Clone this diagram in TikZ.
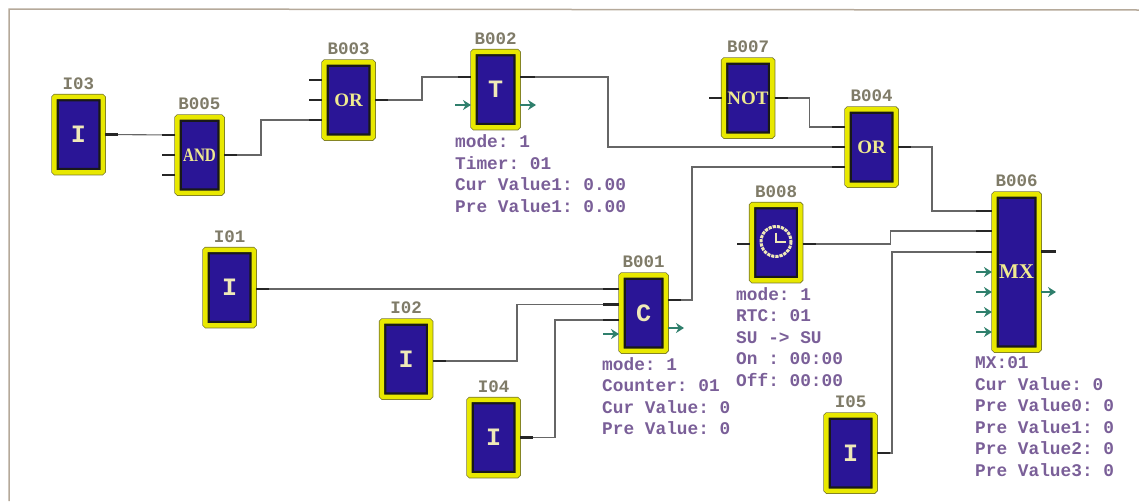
\documentclass[tikz,border=0pt]{standalone}
\usepackage{fontspec}
\setmainfont{Liberation Serif}
\setmonofont{Liberation Mono}
\usetikzlibrary{arrows.meta,positioning}
\definecolor{blockblue}{HTML}{2A1596}
\definecolor{blockyellow}{HTML}{E8E800}
\definecolor{blockedge}{HTML}{77772A}
\definecolor{blockglyph}{HTML}{EFEA90}
\definecolor{monocream}{HTML}{EFE9B8}
\definecolor{titlegrey}{HTML}{7F7B68}
\definecolor{infopurple}{HTML}{7A5F98}
\definecolor{wiregrey}{HTML}{666666}
\definecolor{pingreen}{HTML}{2F7F6C}
\definecolor{frametan}{HTML}{B5A99A}
\tikzset{
  block/.style={
    rectangle,
    rounded corners=1pt,
    draw=blockyellow,
    fill=blockblue,
    line width=4.5pt,
    minimum width=48.5pt,
    minimum height=75.5pt,
    inner sep=0pt,
    text=blockglyph,
    font=\bfseries\fontsize{19}{19}\selectfont,
    preaction={draw=blockedge,line width=6pt},
    path picture={\draw[black!90,line width=9pt] (path picture bounding box.south west) rectangle (path picture bounding box.north east);}
  },
  narrowblock/.style={
    block,
    minimum width=44.5pt
  },
  monoglyph/.style={
    text=monocream,
    font=\ttfamily\bfseries\fontsize{25}{25}\selectfont
  },
  blocktitle/.style={
    text=titlegrey,
    inner sep=0pt,
    font=\ttfamily\bfseries\fontsize{17.5}{17.5}\selectfont
  },
  infotext/.style={
    text=infopurple,
    inner sep=0pt,
    anchor=north west,
    align=left,
    font=\ttfamily\bfseries\fontsize{17.8}{21.5}\selectfont
  },
  wire/.style={
    draw=wiregrey,
    line width=1.1pt
  },
  stub/.style={
    draw=black!85,
    line width=2.2pt
  },
  pinarrow/.style={
    -{Stealth[length=8pt,width=10pt]},
    draw=pingreen,
    line width=2.2pt
  },
  clockring/.style={
    draw=monocream,
    line width=3pt
  }
}
\begin{document}
\begin{tikzpicture}[x=1pt,y=-1pt]
\useasboundingbox (0,0) rectangle (1139,501);
% outer frame
\coordinate (frameA) at (1139,10);
\coordinate (frameB) at (9,9);
\coordinate (frameC) at (9,501);
\draw[frametan,line width=1.5pt] (frameA) -- (frameB) -- (frameC);
% blocks
\node[block,monoglyph] (I03) at (78.5,134.5) {I};
\node[block,monoglyph] (I01) at (229.5,287.5) {I};
\node[block,monoglyph] (I02) at (406,359) {I};
\node[block,monoglyph] (I04) at (493.5,437.5) {I};
\node[block,monoglyph] (I05) at (850.5,453) {I};
\node[narrowblock] (B005) at (199.5,155) {\scalebox{.8}[1]{AND}};
\node[block] (B003) at (348.5,100) {OR};
\node[narrowblock,monoglyph] (B002) at (495.5,89.5) {T};
\node[block] (B007) at (748,98) {NOT};
\node[block] (B004) at (871.5,147) {OR};
\node[block] (B008) at (776,242.5) {};
\node[narrowblock,monoglyph] (B001) at (643.5,313) {C};
\node[narrowblock,minimum height=155.5pt,font=\bfseries\fontsize{21}{21}\selectfont] (B006) at (1016.5,272) {MX};
% clock face
\draw[clockring,dash pattern=on 3.2pt off 1pt] ([yshift=1pt]B008.center) circle (15);
\draw[draw=monocream,line width=2pt] ([yshift=10pt]B008.center) -- ([yshift=1pt]B008.center) -- ([xshift=10pt,yshift=1pt]B008.center);
% titles
\foreach \nm in {I03,I01,I02,I04,I05,B005,B003,B002,B007,B004,B008,B001,B006}
  \node[blocktitle,above=5pt of \nm.north] (\nm title) {\nm};
% info lines
\node[infotext] (B002info) at (455,134.5) {mode: 1\\Timer: 01\\Cur Value1: 0.00\\Pre Value1: 0.00};
\node[infotext] (B001info) at (602,357) {mode: 1\\Counter: 01\\Cur Value: 0\\Pre Value: 0};
\node[infotext] (B008info) at (736,287) {mode: 1\\RTC: 01\\SU -> SU\\On : 00:00\\Off: 00:00};
\node[infotext] (B006info) at (975,356.5) {MX:01\\Cur Value: 0\\Pre Value0: 0\\Pre Value1: 0\\Pre Value2: 0\\Pre Value3: 0};
% wires
\draw[wire] (I03.east) -- ([yshift=20pt]B005.west);
\draw[wire] (B005.east) -- ++(37,0) |- ([yshift=-20pt]B003.west);
\draw[wire] (B003.east) -- ++(47,0) |- ([yshift=12.5pt]B002.west);
\draw[wire] ([yshift=12.5pt]B002.east) -- ++(88,0) |- (B004.west);
\draw[wire] (B007.east) -- ++(35,0) |- ([yshift=20pt]B004.west);
\draw[wire] ([yshift=13pt]B001.east) -- ++(24,0) |- ([yshift=-20pt]B004.west);
\draw[wire] (B004.east) -- ++(34,0) |- ([yshift=61pt]B006.west);
\draw[wire] ([yshift=-1.5pt]B008.east) -- ++(88,0) |- ([yshift=41pt]B006.west);
\draw[wire] (I05.east) -- ++(15,0) |- ([yshift=20pt]B006.west);
\draw[wire] ([yshift=-1.5pt]I01.east) -- ([yshift=24pt]B001.west);
\draw[wire] ([yshift=-2pt]I02.east) -- ++(84.5,0) |- ([yshift=8.5pt]B001.west);
\draw[wire] (I04.east) -- ++(35,0) |- ([yshift=-7pt]B001.west);
% stubs on the blocks
\foreach \nm in {I03,I05} \draw[stub] (\nm.east) -- ++(13,0);
\draw[stub] ([yshift=-1.5pt]I01.east) -- ++(13,0);
\draw[stub] ([yshift=-2pt]I02.east) -- ++(13,0);
\draw[stub] (I04.east) -- ++(13,0);
\foreach \nm in {B005,B003,B004} {
  \foreach \dy in {20,0,-20}
    \draw[stub] ([yshift=\dy pt]\nm.west) -- ++(-13,0);
  \draw[stub] (\nm.east) -- ++(13,0);
}
\draw[stub] ([yshift=12.5pt]B002.west) -- ++(-13,0);
\draw[stub] ([yshift=12.5pt]B002.east) -- ++(15,0);
\draw[stub] (B007.west) -- ++(-13,0);
\draw[stub] (B007.east) -- ++(13,0);
\draw[stub] ([yshift=-1.5pt]B008.west) -- ++(-13,0);
\draw[stub] ([yshift=-1.5pt]B008.east) -- ++(13,0);
\foreach \dy in {24,8.5,-7}
  \draw[stub] ([yshift=\dy pt]B001.west) -- ++(-16,0);
\draw[stub] ([yshift=13pt]B001.east) -- ++(13,0);
\foreach \dy in {61,41,20}
  \draw[stub] ([yshift=\dy pt]B006.west) -- ++(-16,0);
\draw[stub] ([yshift=20.5pt]B006.east) -- ++(15,0);
% green pins
\draw[pinarrow] ([xshift=-16pt,yshift=-15.5pt]B002.west) -- ([yshift=-15.5pt]B002.west);
\draw[pinarrow] ([yshift=-15.5pt]B002.east) -- ++(16,0);
\draw[pinarrow] ([xshift=-16pt,yshift=-21pt]B001.west) -- ([yshift=-21pt]B001.west);
\draw[pinarrow] ([yshift=-15pt]B001.east) -- ++(16,0);
\foreach \dy in {0,-20,-40,-60}
  \draw[pinarrow] ([xshift=-16pt,yshift=\dy pt]B006.west) -- ([yshift=\dy pt]B006.west);
\draw[pinarrow] ([yshift=-20pt]B006.east) -- ++(15,0);
\end{tikzpicture}
\end{document}
